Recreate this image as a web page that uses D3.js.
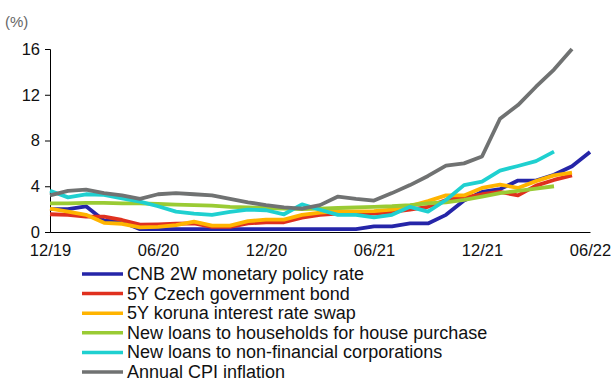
<!DOCTYPE html>
<html>
<head>
<meta charset="utf-8">
<script src="https://cdn.jsdelivr.net/npm/d3@7"></script>
<style>
  html, body { margin: 0; padding: 0; background: #fff; }
  svg { display: block; font-family: "Liberation Sans", Arial, sans-serif; }
</style>
</head>
<body>
<svg id="chart" width="616" height="378"></svg>
<script>
// Monthly observations, Dec 2019 (index 0) to Jun 2022 (index 30)
const months = d3.range(0, 31);
const xTickIndex = [0, 6, 12, 18, 24, 30];
const xTickLabels = ["12/19", "06/20", "12/20", "06/21", "12/21", "06/22"];
const yTicks = [0, 4, 8, 12, 16];

const seriesNames = [
  "CNB 2W monetary policy rate",
  "5Y Czech government bond",
  "5Y koruna interest rate swap",
  "New loans to households for house purchase",
  "New loans to non-financial corporations",
  "Annual CPI inflation"
];
const seriesColors = ["#2525a8", "#e0301e", "#ffb400", "#9acb34", "#1fd0d0", "#707272"];

const repoRate = [2.0, 2.0, 2.25, 1.0, 0.9, 0.25, 0.25, 0.25, 0.25, 0.25, 0.25, 0.25, 0.25,
  0.25, 0.25, 0.25, 0.25, 0.25, 0.5, 0.5, 0.75, 0.75, 1.5, 2.75, 3.5, 3.75, 4.5, 4.5, 5.0, 5.75, 7.0];
const govBond5y = [1.55, 1.5, 1.35, 1.35, 1.05, 0.65, 0.67, 0.72, 0.75, 0.45, 0.45, 0.75, 0.85,
  0.85, 1.25, 1.5, 1.6, 1.65, 1.6, 1.75, 1.95, 2.2, 2.8, 3.0, 3.3, 3.5, 3.2, 4.05, 4.55, 4.95];
const irs5y = [2.05, 1.78, 1.5, 0.8, 0.72, 0.4, 0.45, 0.6, 0.9, 0.55, 0.55, 0.95, 1.08,
  1.08, 1.5, 1.7, 1.8, 1.8, 1.82, 1.95, 2.27, 2.7, 3.2, 3.2, 3.85, 4.15, 3.85, 4.45, 4.95, 5.2];
const householdLoans = [2.5, 2.5, 2.55, 2.55, 2.5, 2.5, 2.45, 2.4, 2.35, 2.3, 2.2, 2.15, 2.1,
  2.05, 2.0, 2.05, 2.1, 2.15, 2.2, 2.25, 2.35, 2.5, 2.6, 2.8, 3.1, 3.4, 3.6, 3.8, 4.0];
const corporateLoans = [3.6, 3.03, 3.3, 3.25, 2.95, 2.65, 2.25, 1.78, 1.6, 1.5, 1.75, 1.95, 1.9,
  1.55, 2.42, 1.95, 1.5, 1.5, 1.28, 1.5, 2.2, 1.78, 2.8, 4.1, 4.4, 5.37, 5.77, 6.2, 7.03];
const cpiInflation = [3.2, 3.6, 3.7, 3.4, 3.2, 2.9, 3.3, 3.4, 3.3, 3.2, 2.9, 2.6, 2.35,
  2.15, 2.05, 2.35, 3.1, 2.9, 2.75, 3.4, 4.1, 4.9, 5.8, 6.0, 6.6, 9.9, 11.1, 12.7, 14.2, 16.0];

const seriesValues = [repoRate, govBond5y, irs5y, householdLoans, corporateLoans, cpiInflation];

const svg = d3.select("#chart");
const margin = { left: 50, right: 26, top: 49, bottom: 146 };
const width = 616 - margin.left - margin.right;
const height = 378 - margin.top - margin.bottom;

const x = d3.scaleLinear().domain([0, 30]).range([margin.left, margin.left + width]);
const y = d3.scaleLinear().domain([0, 16]).range([margin.top + height, margin.top]);

// Unit label
svg.append("text")
  .attr("x", 5).attr("y", 27)
  .attr("font-size", 15).attr("fill", "#666")
  .text("(%)");

// Y axis
const yAxis = svg.append("g")
  .attr("transform", `translate(${margin.left},0)`)
  .call(d3.axisLeft(y).tickValues(yTicks).tickSize(5).tickPadding(5).tickFormat(d3.format("d")));
yAxis.selectAll("path, line").attr("stroke", "#000").attr("stroke-width", 1);
yAxis.selectAll("text").attr("font-size", 16.5).attr("fill", "#111").attr("font-family", "Liberation Sans, Arial, sans-serif");

// X axis
const xAxis = svg.append("g")
  .attr("transform", `translate(0,${margin.top + height})`)
  .call(d3.axisBottom(x).tickValues(xTickIndex).tickSize(0).tickPadding(12)
    .tickFormat((d, i) => xTickLabels[i]));
xAxis.select("path").attr("stroke", "#000").attr("stroke-width", 1);
xAxis.selectAll("text").attr("font-size", 16.5).attr("fill", "#111").attr("font-family", "Liberation Sans, Arial, sans-serif");

// Series lines
const line = d3.line()
  .x((d, i) => x(months[i]))
  .y(d => y(d));

seriesValues.forEach((vals, k) => {
  svg.append("path")
    .datum(vals)
    .attr("fill", "none")
    .attr("stroke", seriesColors[k])
    .attr("stroke-width", 3.8)
    .attr("stroke-linejoin", "round")
    .attr("d", line);
});

// Legend
const legend = svg.append("g").attr("transform", "translate(82,274)");
seriesNames.forEach((name, k) => {
  const row = legend.append("g").attr("transform", `translate(0,${k * 19.6})`);
  row.append("line")
    .attr("x1", 0).attr("x2", 41).attr("y1", 0).attr("y2", 0)
    .attr("stroke", seriesColors[k]).attr("stroke-width", 3.5);
  row.append("text")
    .attr("x", 45).attr("y", 6)
    .attr("font-size", 18).attr("fill", "#111")
    .text(name);
});
</script>
</body>
</html>
